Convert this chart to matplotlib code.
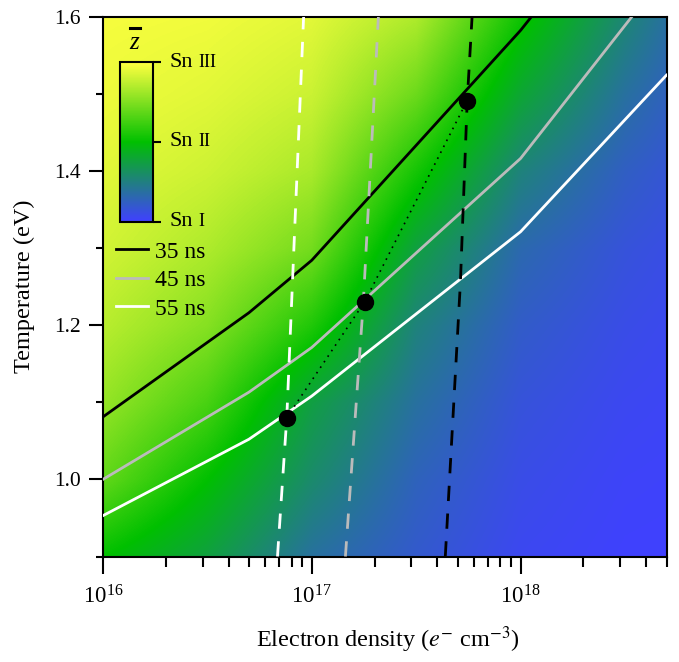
import numpy as np
import matplotlib
matplotlib.use("Agg")
import matplotlib.pyplot as plt
from matplotlib.colors import LinearSegmentedColormap, Normalize
from matplotlib.cm import ScalarMappable
from matplotlib.ticker import MultipleLocator, LogLocator, NullFormatter, FormatStrFormatter
from matplotlib.lines import Line2D
from matplotlib.offsetbox import TextArea, HPacker, AnnotationBbox

plt.rcParams['font.family'] = ['Liberation Serif', 'DejaVu Serif']
plt.rcParams['mathtext.fontset'] = 'stix'

# ---------------- data ----------------
# mean charge state map (log10 density columns x temperature rows)
grid_logn = [16.0, 16.5, 17.0, 17.5, 18.0, 18.5, 19.0]
grid_temp = [0.9, 1.0, 1.1, 1.2, 1.3, 1.4, 1.5, 1.6]
zbar_T090 = [2.00, 1.75, 1.38, 1.20, 1.06, 1.01, 1.00]
zbar_T100 = [2.38, 2.00, 1.58, 1.27, 1.10, 1.03, 1.01]
zbar_T110 = [2.58, 2.28, 1.74, 1.38, 1.15, 1.06, 1.02]
zbar_T120 = [2.72, 2.52, 2.12, 1.52, 1.22, 1.10, 1.03]
zbar_T130 = [2.82, 2.68, 2.45, 1.75, 1.32, 1.15, 1.05]
zbar_T140 = [2.88, 2.80, 2.66, 2.08, 1.52, 1.24, 1.07]
zbar_T150 = [2.93, 2.88, 2.79, 2.42, 1.80, 1.38, 1.09]
zbar_T160 = [2.96, 2.94, 2.88, 2.68, 2.06, 1.55, 1.12]

# temperature-density curves at fixed times
curve_density = [1e16, 5e16, 1e17, 1e18, 5e18]
temp_35ns = [1.081, 1.216, 1.284, 1.582, 1.82]
temp_45ns = [1.000, 1.113, 1.171, 1.416, 1.657]
temp_55ns = [0.953, 1.052, 1.108, 1.321, 1.524]
curve_labels = ['35 ns', '45 ns', '55 ns']

# dashed near-vertical curves
dash_white_temp = [0.9, 1.08, 1.6]
dash_white_dens = [6.85e16, 7.59e16, 9.14e16]
dash_gray_temp = [0.9, 1.23, 1.6]
dash_gray_dens = [1.449e17, 1.766e17, 2.085e17]
dash_black_temp = [0.9, 1.255, 1.49, 1.6]
dash_black_dens = [4.36e17, 5.15e17, 5.55e17, 5.86e17]

# intersection points
dot_density = [7.59e16, 1.79e17, 5.55e17]
dot_temp = [1.080, 1.230, 1.491]

cbar_ticks = [1, 2, 3]
cbar_numerals = ['I', 'II', 'III']

# ---------------- figure ----------------
W, H = 679, 662
fig = plt.figure(figsize=(W / 100, H / 100), dpi=100)
rect = [103 / W, 1 - 556.5 / H, (666.5 - 103) / W, (556.5 - 16.5) / H]

cmap = LinearSegmentedColormap.from_list('snz', [(0.0, '#4040ff'), (0.5, '#00c000'), (1.0, '#ffff40')])
norm = Normalize(1, 3)

# background map drawn in log10(density) space on a hidden axes
bgax = fig.add_axes(rect, zorder=0)
zgrid = np.array([zbar_T090, zbar_T100, zbar_T110, zbar_T120,
                  zbar_T130, zbar_T140, zbar_T150, zbar_T160])
dl = (grid_logn[1] - grid_logn[0]) / 2
dt = (grid_temp[1] - grid_temp[0]) / 2
bgax.imshow(zgrid, origin='lower', aspect='auto', cmap=cmap, norm=norm,
            interpolation='bilinear', interpolation_stage='data',
            extent=[grid_logn[0] - dl, grid_logn[-1] + dl,
                    grid_temp[0] - dt, grid_temp[-1] + dt])
bgax.set_xlim(16, np.log10(5e18))
bgax.set_ylim(0.9, 1.6)
bgax.axis('off')

ax = fig.add_axes(rect, zorder=1)
ax.patch.set_visible(False)
ax.set_xscale('log')
line_colors = ['black', '#bbbbbb', 'white']
for temps, c, lab in zip([temp_35ns, temp_45ns, temp_55ns], line_colors, curve_labels):
    ax.plot(curve_density, temps, color=c, lw=2.0, label=lab, zorder=3)

for dens, temps, c in zip([dash_white_dens, dash_gray_dens, dash_black_dens],
                          [dash_white_temp, dash_gray_temp, dash_black_temp],
                          ['white', '#bbbbbb', 'black']):
    ax.plot(dens, temps, color=c, lw=2.0, dashes=(5.5, 4.5), zorder=3)

ax.plot(dot_density, dot_temp, color='black', lw=1.2, linestyle=(0, (1, 3)), zorder=4)
ax.plot(dot_density, dot_temp, 'o', color='black', ms=11.5, zorder=5)

ax.set_xlim(1e16, 5e18)
ax.set_ylim(0.9, 1.6)
ax.yaxis.set_major_locator(MultipleLocator(0.2))
ax.yaxis.set_minor_locator(MultipleLocator(0.1))
ax.yaxis.set_major_formatter(FormatStrFormatter('%.1f'))
ax.xaxis.set_major_locator(LogLocator(base=10))
ax.xaxis.set_minor_locator(LogLocator(base=10, subs=np.arange(2, 10)))
ax.xaxis.set_minor_formatter(NullFormatter())
ax.tick_params(which='both', direction='out', width=1.5, top=False, right=False)
ax.tick_params(axis='y', which='major', length=10, pad=6, labelsize=15.5)
ax.tick_params(axis='y', which='minor', length=5)
ax.tick_params(axis='x', which='major', length=12, pad=9, labelsize=16.5)
ax.tick_params(axis='x', which='minor', length=7)
for s in ax.spines.values():
    s.set_linewidth(1.5)

fig.text(388 / W, 1 - 640 / H, r'Electron density ($e^{-}$ cm$^{-3}$)', ha='center', va='center', fontsize=17.5)
fig.text(24 / W, 1 - 286 / H, 'Temperature (eV)', ha='center', va='center', rotation=90, fontsize=17.5)

# legend
handles = [Line2D([], [], color=c, lw=2.0) for c in line_colors]
ax.legend(handles, curve_labels, loc='upper left', bbox_to_anchor=(116 / W, 1 - 241 / H),
          bbox_transform=fig.transFigure, frameon=False, fontsize=17, borderpad=0,
          borderaxespad=0, handlelength=1.35, handletextpad=0.3, labelspacing=0.3)

# colorbar inset
cax = fig.add_axes([119.5 / W, 1 - 221.7 / H, 33 / W, (221.7 - 62.3) / H], zorder=2)
cb = fig.colorbar(ScalarMappable(norm=norm, cmap=cmap), cax=cax)
cb.set_ticks(cbar_ticks)
cb.set_ticklabels([''] * 3)
cb.outline.set_linewidth(1.5)
cax.tick_params(direction='out', length=6, width=1.5, right=True)
for val, num in zip(cbar_ticks, cbar_numerals):
    ta1 = TextArea('Sn', textprops=dict(fontsize=16))
    ta2 = TextArea(num, textprops=dict(fontsize=13))
    box = HPacker(children=[ta1, ta2], align='baseline', pad=0, sep=4)
    ab = AnnotationBbox(box, (1, norm(val)), xycoords=cax.transAxes, xybox=(12, 0),
                        boxcoords='offset points', box_alignment=(0, 0.5), frameon=False,
                        annotation_clip=False)
    cax.add_artist(ab)

# z-bar label: italic z with a separate bar above
fig.text(134 / W, 1 - 43 / H, 'z', ha='center', va='center', fontsize=18, style='italic')
fig.add_artist(Line2D([130 / W, 139.5 / W], [1 - 27.5 / H, 1 - 27.5 / H], color='black', lw=2.2,
                      transform=fig.transFigure))

fig.savefig('out.png', dpi=100)
